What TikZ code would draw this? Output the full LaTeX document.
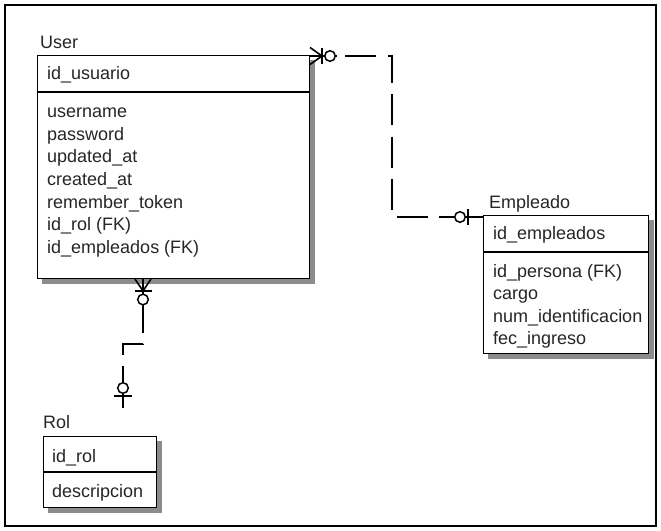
\documentclass[tikz,border=0pt]{standalone}
\usepackage{fontspec}
\setmainfont{Liberation Sans}
\usetikzlibrary{calc}
\begin{document}
\begin{tikzpicture}[x=1pt,y=-1pt,
  font=\fontsize{18}{21}\selectfont,
  entity/.style={draw=black, line width=1.4pt, fill=white, inner sep=0pt, anchor=north west},
  shade/.style={fill=black!45},
  ttl/.style={anchor=base west, inner sep=0pt, text=black!85},
  attr/.style={anchor=base west, inner sep=0pt, text=black!85},
  sep/.style={line width=1.4pt},
  rel/.style={line width=1.6pt, line join=miter},
  reldash/.style={rel, dash pattern=on 31pt off 11.5pt},
  ring/.style={line width=1.5pt, fill=white}
]
\useasboundingbox (0,0) rectangle (661,530);
\fill[white] (0,0) rectangle (661,530);
\draw[line width=1.2pt] (5,5) rectangle (656,526);

% ---------- User ----------
\node[ttl] (userT) at (40,48) {User};
\fill[shade] (42,60) rectangle (314.5,283.5);
\node[entity, minimum width=272pt, minimum height=223pt] (user) at (37,55) {};
\draw[sep] (37,92) -- (309,92);
\node[attr] (u0) at (47,79) {id\_usuario};
\node[attr] (u1) at (47,117) {username};
\node[attr] (u2) at (47,140) {password};
\node[attr] (u3) at (47,162) {updated\_at};
\node[attr] (u4) at (47,185) {created\_at};
\node[attr] (u5) at (47,208) {remember\_token};
\node[attr] (u6) at (47,230) {id\_rol (FK)};
\node[attr] (u7) at (47,253) {id\_empleados (FK)};

% ---------- Empleado ----------
\node[ttl] (empT) at (489,208) {Empleado};
\fill[shade] (488,220) rectangle (653.5,358.5);
\node[entity, minimum width=165pt, minimum height=138pt] (emp) at (483,215) {};
\draw[sep] (483,252) -- (648,252);
\node[attr] (e0) at (493,239) {id\_empleados};
\node[attr] (e1) at (493,277) {id\_persona (FK)};
\node[attr] (e2) at (493,299.5) {cargo};
\node[attr] (e3) at (493,322) {num\_identificacion};
\node[attr] (e4) at (493,344.5) {fec\_ingreso};

% ---------- Rol ----------
\node[ttl] (rolT) at (43,428) {Rol};
\fill[shade] (48,441) rectangle (161.5,512.5);
\node[entity, minimum width=113pt, minimum height=71pt] (rol) at (43,436) {};
\draw[sep] (43,472) -- (156,472);
\node[attr] (r0) at (52,462) {id\_rol};
\node[attr] (r1) at (52,497) {descripcion};

% ---------- connector User -- Empleado ----------
\coordinate (uR) at (310,56);
\coordinate (k1) at (392,56);
\coordinate (eL) at (483,217);
\draw[reldash, dash phase=7.5pt] (uR) -- (k1) |- (eL);
\draw[rel] (uR) -- (337,56);
\draw[rel] (310,47.5) -- (322,56) -- (310,64.5);
\draw[rel] (322,48) -- (322,64);
\draw[ring] (330,56) circle (5.3pt);
\draw[rel] (439,217) -- (eL);
\draw[ring] (460,217) circle (5.3pt);
\draw[rel] (468,209) -- (468,225);

% ---------- connector User -- Rol ----------
\coordinate (uB) at (143,278);
\coordinate (k2) at (143,344);
\coordinate (rT) at (123,408);
\draw[reldash, dash phase=19pt] (uB) -- (k2) -| (rT);
\draw[rel] (uB) -- (143,332);
\draw[rel] (135,279) -- (143,291) -- (151,279);
\draw[rel] (134.5,291) -- (151.5,291);
\draw[ring] (143,299.5) circle (5.3pt);
\draw[rel] (123,366) -- (rT);
\draw[ring] (123,388) circle (5.3pt);
\draw[rel] (114,396) -- (132,396);
\end{tikzpicture}
\end{document}
